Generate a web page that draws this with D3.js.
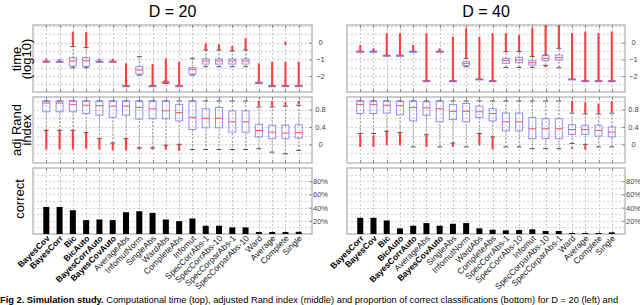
<!DOCTYPE html>
<html>
<head>
<meta charset="utf-8">
<script src="https://cdn.jsdelivr.net/npm/d3@7"></script>
<style>
body { margin: 0; background: #fff; }
svg { display: block; font-family: Arial, "Liberation Sans", sans-serif; }
</style>
</head>
<body>
<svg id="chart" width="640" height="305"></svg>
<script>
// categories, in plotted order, for each dimension
var cats20 = ['BayesCov', 'BayesCorr', 'Bic', 'BicAuto', 'BayesCorrAuto', 'BayesCovAuto', 'AverageAbs', 'InfomutNorm',
	'SingleAbs', 'WardAbs', 'CompleteAbs', 'Infomut', 'SpecCorrAbs-1', 'SpecCorrAbs-10', 'SpecCorparAbs-1',
	'SpecCorparAbs-10', 'Ward', 'Average', 'Complete', 'Single'];
var cats40 = ['BayesCorr', 'BayesCov', 'Bic', 'BicAuto', 'BayesCorrAuto', 'AverageAbs', 'BayesCovAuto', 'SingleAbs',
	'InfomutNorm', 'WardAbs', 'CompleteAbs', 'SpecCorrAbs-1', 'SpecCorrAbs-10', 'Infomut', 'SpecCorparAbs-10',
	'SpecCorparAbs-1', 'Ward', 'Average', 'Complete', 'Single'];
var boldNames = ['BayesCov', 'BayesCorr', 'Bic', 'BicAuto', 'BayesCorrAuto', 'BayesCovAuto'];

// boxplot stats: [lower whisker, q1, median, q3, upper whisker]
var time20 = [[-1.14,-1.14,-1.14,-1.14,-1.14], [-1.14,-1.14,-1.14,-1.14,-1.14], [-1.5,-1.4,-1.1,-0.9,-0.24],
	[-1.5,-1.42,-1.08,-0.9,-0.3], [-1.14,-1.14,-1.14,-1.14,-1.14], [-1.14,-1.14,-1.14,-1.14,-1.14],
	[-2.6,-2.6,-2.6,-2.6,-2.6], [-1.94,-1.88,-1.64,-1.44,-0.84], [-2.6,-2.6,-2.6,-2.6,-2.6],
	[-2.44,-2.42,-2.38,-2.34,-2.3], [-2.6,-2.6,-2.6,-2.6,-2.6], [-1.94,-1.88,-1.6,-1.5,-0.94],
	[-1.44,-1.28,-1.1,-0.98,-0.44], [-1.44,-1.28,-1.1,-0.98,-0.44], [-1.44,-1.28,-1.1,-0.98,-0.5],
	[-1.44,-1.28,-1.1,-0.98,-0.44], [-2.4,-2.4,-2.4,-2.4,-2.4], [-2.6,-2.6,-2.6,-2.6,-2.6],
	[-2.6,-2.6,-2.6,-2.6,-2.6], [-2.6,-2.6,-2.6,-2.6,-2.6]];
var time40 = [[-0.54,-0.54,-0.54,-0.54,-0.54], [-0.54,-0.54,-0.54,-0.54,-0.54], [-0.78,-0.78,-0.78,-0.78,-0.78],
	[-0.78,-0.78,-0.78,-0.78,-0.78], [-0.54,-0.54,-0.54,-0.54,-0.54], [-2.3,-2.3,-2.3,-2.3,-2.3],
	[-0.54,-0.54,-0.54,-0.54,-0.54], [-2.3,-2.3,-2.3,-2.3,-2.3], [-1.44,-1.38,-1.26,-1.14,-0.94],
	[-2.2,-2.2,-2.2,-2.2,-2.2], [-2.3,-2.3,-2.3,-2.3,-2.3], [-1.48,-1.24,-1.08,-0.94,-0.54],
	[-1.48,-1.2,-1.04,-0.88,-0.54], [-1.48,-1.34,-1.2,-1.08,-0.84], [-1.36,-1.08,-0.94,-0.78,-0.74],
	[-1.5,-1.04,-0.9,-0.74,-0.34], [-2.2,-2.2,-2.2,-2.2,-2.2], [-2.3,-2.3,-2.3,-2.3,-2.3],
	[-2.3,-2.3,-2.3,-2.3,-2.3], [-2.3,-2.3,-2.3,-2.3,-2.3]];
// outlier ranges (the dense red '+' columns)
var timeOut20 = [[[-1.14,-0.96]], [[-1.14,-0.98]], [[-0.2,0.66]], [[-0.25,0.62]], [[-1.14,-0.98]], [[-1.14,-0.98]],
	[[-2.6,-1.24]], [], [[-2.6,-1.28]], [[-2.3,-0.94]], [[-2.6,-1.14]], [], [[-0.44,-0.04]], [[-0.44,-0.1]],
	[[-0.5,-0.2]], [[-0.44,0.26]], [[-2.4,-1.24]], [[-2.6,-1.14]], [[-2.6,-1.14],[-0.14,0.06]], [[-2.6,-1.14]]];
var timeOut40 = [[[-0.54,-0.14]], [[-0.54,-0.34]], [[-0.78,0.56]], [[-0.78,0.56]], [[-0.54,-0.14]], [[-2.3,0.56]],
	[[-0.54,-0.34]], [[-2.3,0.36]], [[-0.94,0.86]], [[-2.2,0.36]], [[-2.3,0.56]], [[-0.54,0.56]], [[-0.54,0.46]],
	[[-0.84,0.86]], [[-0.74,1.04],[-1.48,-1.38]], [[-0.34,1.04]], [[-2.2,0.56]], [[-2.3,0.66]], [[-2.3,0.56]],
	[[-2.3,0.66]]];

var ari20 = [[0.32,0.75,0.95,1.0,1.0], [0.32,0.75,0.95,1.0,1.0], [0.32,0.75,0.92,1.0,1.0], [0.27,0.71,0.9,1.0,1.0],
	[0.13,0.67,0.89,1.0,1.0], [0.03,0.62,0.88,1.0,1.0], [0.13,0.67,0.88,1.0,1.0], [-0.08,0.58,0.85,1.0,1.0],
	[-0.08,0.59,0.82,1.0,1.0], [-0.02,0.59,0.77,1.0,1.0], [0,0.54,0.73,0.92,1.0], [-0.12,0.34,0.62,1.0,1.0],
	[-0.12,0.38,0.6,0.82,1.0], [-0.12,0.38,0.6,0.85,1.0], [-0.12,0.28,0.52,0.77,1.0], [-0.12,0.28,0.52,0.77,1.0],
	[-0.1,0.17,0.32,0.46,0.86], [-0.18,0.13,0.28,0.44,0.86], [-0.22,0.13,0.26,0.44,0.88], [-0.14,0.15,0.27,0.45,0.9]];
var ari40 = [[0.25,0.71,0.92,1.0,1.0], [0.25,0.71,0.92,1.0,1.0], [0.3,0.72,0.9,1.0,1.0], [0.27,0.68,0.89,0.99,1.0],
	[-0.06,0.54,0.85,1.0,1.0], [0.22,0.67,0.84,0.98,1.0], [-0.06,0.52,0.82,1.0,1.0], [0.03,0.57,0.76,0.92,1.0],
	[-0.06,0.52,0.76,0.94,1.0], [0.25,0.62,0.75,0.88,1.0], [0.17,0.54,0.71,0.82,1.0], [-0.06,0.31,0.52,0.72,1.0],
	[-0.06,0.31,0.52,0.72,1.0], [-0.1,0.13,0.36,0.62,1.0], [-0.1,0.13,0.36,0.59,1.0], [-0.1,0.13,0.36,0.59,1.0],
	[0.02,0.23,0.34,0.45,0.72], [0.0,0.23,0.34,0.44,0.7], [-0.06,0.19,0.32,0.44,0.7], [-0.06,0.17,0.28,0.4,0.72]];
var ariOut20 = [[[-0.12,0.31]], [[-0.12,0.31]], [[-0.12,0.31]], [[-0.1,0.27]], [[-0.12,0.13]], [[-0.14,0.03]],
	[[-0.14,0.13]], [[-0.12,-0.08]], [[-0.12,-0.08]], [[-0.12,-0.02]], [[-0.15,0]], [], [], [], [], [],
	[[0.88,1.0]], [[0.88,1.0]], [[0.9,0.98]], [[0.92,1.0]]];
var ariOut40 = [[[-0.06,0.23]], [[-0.06,0.21]], [[-0.02,0.31]], [[-0.02,0.26]], [], [[-0.06,0.21]], [],
	[[-0.06,0.03]], [], [[-0.02,0.25]], [[-0.12,0.17]], [], [], [], [], [],
	[[0.75,1.0],[-0.1,-0.06]], [[0.72,0.97],[-0.12,-0.02]], [[0.72,0.94]], [[0.74,0.99]]];

// proportion of correct classifications
var correct20 = [0.41, 0.41, 0.36, 0.21, 0.22, 0.21, 0.33, 0.345, 0.32, 0.22, 0.195, 0.235, 0.125, 0.125, 0.10, 0.10,
	0.03, 0.03, 0.03, 0.033];
var correct40 = [0.245, 0.245, 0.205, 0.085, 0.125, 0.165, 0.125, 0.155, 0.165, 0.085, 0.065, 0.055, 0.06, 0.07,
	0.045, 0.045, 0.015, 0.015, 0.015, 0.025];

var titles = ['D = 20', 'D = 40'];
var timeTicks = [0, -1, -2];
var ariTicks = [0, 0.4, 0.8];
var correctTicks = [0.2, 0.4, 0.6, 0.8];

var svg = d3.select('#chart');
var panelX = [[33, 312], [347, 625]];
var rows = {
	time: {y: [25, 92], domain: [-2.95, 1.05], grid: d3.range(-2.5, 1.01, 0.5), ticks: timeTicks, fmt: d3.format('d')},
	ari: {y: [97, 163], domain: [-0.43, 1.09], grid: d3.range(-0.4, 1.01, 0.2), ticks: ariTicks, fmt: function (d) { return d === 0 ? '0' : d3.format('.1f')(d); }},
	correct: {y: [168, 234], domain: [0, 1], grid: d3.range(0.1, 0.95, 0.1), ticks: correctTicks, fmt: d3.format('.0%')}
};

function drawFrame(x, y, row) {
	var g = svg.append('g');
	var x0 = x.range()[0], x1 = x.range()[1];
	var y0 = row.y[0], y1 = row.y[1];
	g.append('rect').attr('x', x0).attr('y', y0).attr('width', x1 - x0).attr('height', y1 - y0)
		.attr('fill', '#fff').attr('stroke', '#bdbdbd').attr('stroke-width', 1.5);
	g.selectAll('.hg').data(row.grid).enter().append('line')
		.attr('x1', x0).attr('x2', x1)
		.attr('y1', function (d) { return Math.round(y(d)) + 0.5; })
		.attr('y2', function (d) { return Math.round(y(d)) + 0.5; })
		.attr('stroke', '#d4d4d4').attr('stroke-dasharray', '2,2');
	return g;
}

function drawVGrid(g, x, cats, row) {
	g.selectAll('.vg').data(cats).enter().append('line')
		.attr('x1', function (d) { return Math.round(x(d)) + 0.5; })
		.attr('x2', function (d) { return Math.round(x(d)) + 0.5; })
		.attr('y1', row.y[0]).attr('y2', row.y[1])
		.attr('stroke', '#c8c8c8').attr('stroke-dasharray', '2,2');
	// small ticks on top and bottom edges
	g.selectAll('.tt').data(cats).enter().append('line')
		.attr('x1', function (d) { return Math.round(x(d)) + 0.5; })
		.attr('x2', function (d) { return Math.round(x(d)) + 0.5; })
		.attr('y1', row.y[0]).attr('y2', row.y[0] + 3).attr('stroke', '#888');
	g.selectAll('.tb').data(cats).enter().append('line')
		.attr('x1', function (d) { return Math.round(x(d)) + 0.5; })
		.attr('x2', function (d) { return Math.round(x(d)) + 0.5; })
		.attr('y1', row.y[1] - 3).attr('y2', row.y[1]).attr('stroke', '#888');
}

function drawRightAxis(g, x, y, row) {
	var x1 = x.range()[1];
	var axis = d3.axisRight(y).tickValues(row.ticks).tickSize(-3).tickFormat(row.fmt);
	var ag = g.append('g').attr('transform', 'translate(' + x1 + ',0)').call(axis);
	ag.select('.domain').remove();
	ag.selectAll('.tick line').attr('stroke', '#888');
	ag.selectAll('.tick text').attr('x', 8.5).attr('text-anchor', 'middle')
		.attr('font-size', 7.5).attr('fill', '#444');
}

function drawBoxes(g, x, y, cats, stats, outs) {
	var bw = 7;
	cats.forEach(function (c, i) {
		var s = stats[i];
		var cx = x(c);
		// whiskers
		g.append('line').attr('x1', cx).attr('x2', cx).attr('y1', y(s[0])).attr('y2', y(s[1]))
			.attr('stroke', '#7a7a7a').attr('stroke-dasharray', '2,1.5').attr('stroke-width', 0.7);
		g.append('line').attr('x1', cx).attr('x2', cx).attr('y1', y(s[3])).attr('y2', y(s[4]))
			.attr('stroke', '#7a7a7a').attr('stroke-dasharray', '2,1.5').attr('stroke-width', 0.7);
		[s[0], s[4]].forEach(function (w) {
			g.append('line').attr('x1', cx - 2.5).attr('x2', cx + 2.5).attr('y1', y(w)).attr('y2', y(w))
				.attr('stroke', '#444').attr('stroke-width', 0.9);
		});
		// outliers
		outs[i].forEach(function (o) {
			g.append('line').attr('x1', cx).attr('x2', cx).attr('y1', y(o[0])).attr('y2', y(o[1]))
				.attr('stroke', '#ff2020').attr('stroke-width', 2.1).attr('stroke-opacity', 0.85);
		});
		// box
		var top = y(s[3]), bot = y(s[1]);
		var h = Math.max(bot - top, 1.2);
		g.append('rect').attr('x', cx - bw / 2).attr('y', top - (h - (bot - top)) / 2).attr('width', bw).attr('height', h)
			.attr('fill', 'none').attr('stroke', '#6a6aff').attr('stroke-opacity', 0.75).attr('stroke-width', 1);
		g.append('line').attr('x1', cx - bw / 2).attr('x2', cx + bw / 2).attr('y1', y(s[2])).attr('y2', y(s[2]))
			.attr('stroke', '#ff5050').attr('stroke-width', 1);
	});
}

function drawBars(g, x, y, cats, vals) {
	g.selectAll('.bar').data(vals).enter().append('rect')
		.attr('x', function (d, i) { return x(cats[i]) - 3; })
		.attr('y', function (d) { return y(d); })
		.attr('width', 6)
		.attr('height', function (d) { return y(0) - y(d); })
		.attr('fill', '#000');
}

function drawColumn(p, cats, tStats, tOut, aStats, aOut, corr) {
	var x = d3.scalePoint().domain(cats).range(panelX[p]).padding(1);
	var names = ['time', 'ari', 'correct'];
	names.forEach(function (n) {
		var row = rows[n];
		var y = d3.scaleLinear().domain(row.domain).range([row.y[1], row.y[0]]);
		var g = drawFrame(x, y, row);
		drawVGrid(g, x, cats, row);
		if (n === 'time') drawBoxes(g, x, y, cats, tStats, tOut);
		else if (n === 'ari') drawBoxes(g, x, y, cats, aStats, aOut);
		else drawBars(g, x, y, cats, corr);
		drawRightAxis(g, x, y, row);
	});
	// title
	svg.append('text').attr('x', (panelX[p][0] + panelX[p][1]) / 2).attr('y', 17)
		.attr('text-anchor', 'middle').attr('font-size', 16).text(titles[p]);
	// category labels
	svg.selectAll('.cl' + p).data(cats).enter().append('text')
		.attr('transform', function (d) { return 'translate(' + (x(d) + 4) + ',239) rotate(-45)'; })
		.attr('text-anchor', 'end')
		.attr('font-size', 8.5)
		.attr('font-weight', function (d) { return boldNames.indexOf(d) >= 0 ? 'bold' : 'normal'; })
		.attr('fill', function (d) { return boldNames.indexOf(d) >= 0 ? '#000' : '#222'; })
		.text(function (d) { return d; });
}

drawColumn(0, cats20, time20, timeOut20, ari20, ariOut20, correct20);
drawColumn(1, cats40, time40, timeOut40, ari40, ariOut40, correct40);

// y labels
function yLabel(lines, cy) {
	var t = svg.append('text').attr('transform', 'translate(0,' + cy + ') rotate(-90)')
		.attr('text-anchor', 'middle').attr('font-size', 13);
	lines.forEach(function (l, i) {
		t.append('tspan').attr('x', 0).attr('y', (lines.length === 1 ? 24 : 21 + i * 10)).text(l);
	});
}
yLabel(['time', '(log10)'], 59);
yLabel(['adj Rand', 'index'], 130);
yLabel(['correct'], 199);

// caption along the bottom edge
var cap = svg.append('text').attr('x', 0).attr('y', 302.5).attr('font-size', 9.3);
cap.append('tspan').attr('font-weight', 'bold').text('Fig 2. Simulation study.');
cap.append('tspan').text(' Computational time (top), adjusted Rand index (middle) and proportion of correct classifications (bottom) for D = 20 (left) and');
</script>
</body>
</html>
